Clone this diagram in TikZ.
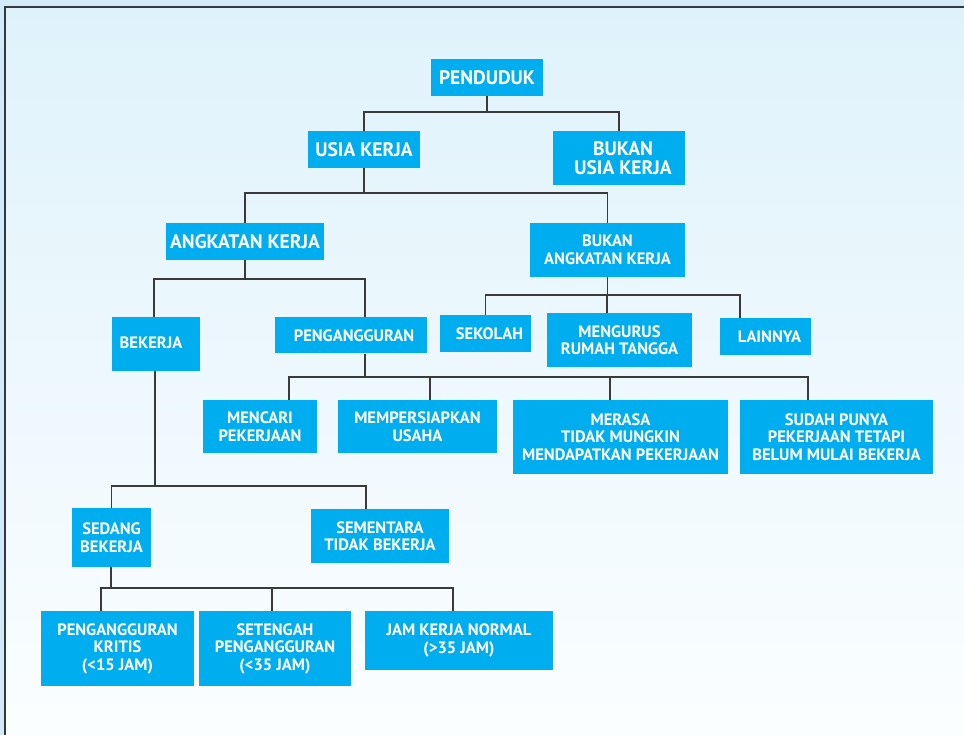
\documentclass[tikz,border=0pt]{standalone}
\usepackage{fontspec}
\setmainfont{PT Sans}
\definecolor{boxblue}{HTML}{00AEEF}
\definecolor{linegray}{HTML}{3A3A3A}
\definecolor{bgtop}{HTML}{DFF2FB}
\definecolor{bgbot}{HTML}{FBFEFF}
\definecolor{outer}{HTML}{D2EAF8}
\definecolor{frame}{HTML}{333840}
\begin{document}
\begin{tikzpicture}[x=1pt,y=-1pt,
  box/.style={fill=boxblue, text=white, align=center, inner sep=0pt,
    font=\fontsize{16.5}{17.5}\selectfont\bfseries},
  bigbox/.style={box, font=\fontsize{19.5}{19}\selectfont\bfseries},
  boxtext/.style={text=white, align=center, inner sep=0pt,
    font=\fontsize{16.5}{17.5}\selectfont\bfseries},
  bigtext/.style={boxtext, font=\fontsize{19.5}{19}\selectfont\bfseries},
  conn/.style={draw=linegray, line width=1.4pt}]
\useasboundingbox (0,0) rectangle (964,735);
\fill[outer] (0,0) rectangle (964,735);
\shade[top color=bgtop, bottom color=bgbot] (5,7) rectangle (964,735);
\draw[frame, line width=2pt] (5,735) -- (5,7) -- (964,7);

% level 0-1
\node[bigbox, minimum width=112, minimum height=37] (pend) at (487,77.5) {PENDUDUK};
\node[bigbox, minimum width=112, minimum height=37] (usia) at (364,149.5) {USIA KERJA};
\node[bigbox, minimum width=132, minimum height=54] (bukanusia) at (619,158) {};
\node[bigtext] (bukanusiaT) at ([xshift=4pt]bukanusia.center) {BUKAN\\USIA KERJA};
% level 2
\node[bigbox, minimum width=158, minimum height=37] (ak) at (245,241.5) {ANGKATAN KERJA};
\node[box, minimum width=155, minimum height=54] (bak) at (607.5,250) {BUKAN\\ANGKATAN KERJA};
% level 3
\node[box, minimum width=88, minimum height=53] (bekerja) at (156,344) {};
\node[boxtext] (bekerjaT) at ([xshift=-5pt,yshift=1pt]bekerja.center) {BEKERJA};
\node[box, minimum width=152, minimum height=36] (peng) at (351,335.5) {};
\node[boxtext] (pengT) at ([xshift=3pt]peng.center) {PENGANGGURAN};
\node[box, minimum width=91, minimum height=37] (sekolah) at (485.5,333.5) {};
\node[boxtext] (sekolahT) at ([xshift=4pt]sekolah.center) {SEKOLAH};
\node[box, minimum width=145, minimum height=54] (mengurus) at (619.5,340) {MENGURUS\\RUMAH TANGGA};
\node[box, minimum width=91, minimum height=37] (lainnya) at (765.5,336.5) {};
\node[boxtext] (lainnyaT) at ([xshift=4pt]lainnya.center) {LAINNYA};
% level 4
\node[box, minimum width=114, minimum height=53] (mencari) at (260,426.5) {MENCARI\\PEKERJAAN};
\node[box, minimum width=159, minimum height=53] (persiap) at (417.5,426.5) {MEMPERSIAPKAN\\USAHA};
\node[box, minimum width=215, minimum height=74] (merasa) at (620.5,437) {MERASA\\TIDAK MUNGKIN\\MENDAPATKAN PEKERJAAN};
\node[box, minimum width=193, minimum height=74] (sudah) at (836.5,437) {SUDAH PUNYA\\PEKERJAAN TETAPI\\BELUM MULAI BEKERJA};
% level 5
\node[box, minimum width=79, minimum height=59] (sedang) at (111.5,537.5) {SEDANG\\BEKERJA};
\node[box, minimum width=138, minimum height=54] (sementara) at (380,536) {SEMENTARA\\TIDAK BEKERJA};
% level 6
\node[box, minimum width=153, minimum height=75] (kritis) at (117.5,648.5) {PENGANGGURAN\\KRITIS\\(<15 JAM)};
\node[box, minimum width=152, minimum height=75] (setengah) at (275,648.5) {SETENGAH\\PENGANGGURAN\\(<35 JAM)};
\node[box, minimum width=188, minimum height=59] (jam) at (459,640.5) {JAM KERJA NORMAL\\(>35 JAM)};

% bus levels
\coordinate (y1) at (0,112);
\coordinate (y2) at (0,193);
\coordinate (y3) at (0,279);
\coordinate (y4) at (0,295);
\coordinate (y5) at (0,377);
\coordinate (y6) at (0,486);
\coordinate (y7) at (0,588);

% connection points
\coordinate (pPeng) at ([xshift=14pt]peng.south);
\coordinate (cPeng) at ([xshift=14pt]peng.north);
\coordinate (cBek) at ([xshift=-2pt]bekerja.north);
\coordinate (pBek) at ([xshift=-1pt]bekerja.south);
\coordinate (cMeng) at ([xshift=-12.5pt]mengurus.north);
\coordinate (cLain) at ([xshift=-25.5pt]lainnya.north);
\coordinate (cMenc) at ([xshift=29pt]mencari.north);
\coordinate (cPers) at ([xshift=12.5pt]persiap.north);
\coordinate (cMer) at ([xshift=-10.5pt]merasa.north);
\coordinate (cSud) at ([xshift=-28.5pt]sudah.north);
\coordinate (cSem) at ([xshift=-14pt]sementara.north);
\coordinate (pSed) at ([xshift=-0.5pt]sedang.south);
\coordinate (cKri) at ([xshift=-16.5pt]kritis.north);
\coordinate (cSet) at ([xshift=-3pt]setengah.north);
\coordinate (cJam) at ([xshift=-6pt]jam.north);

% connectors
\draw[conn] (pend.south) -- (pend.south |- y1);
\draw[conn] (usia.north) -- (usia.north |- y1) -- (bukanusia.north |- y1) -- (bukanusia.north);

\draw[conn] (usia.south) -- (usia.south |- y2);
\draw[conn] (ak.north) -- (ak.north |- y2) -- (bak.north |- y2) -- (bak.north);

\draw[conn] (ak.south) -- (ak.south |- y3);
\draw[conn] (cBek) -- (cBek |- y3) -- (cPeng |- y3) -- (cPeng);

\draw[conn] (bak.south) -- (bak.south |- y4);
\draw[conn] (sekolah.north) -- (sekolah.north |- y4) -- (cLain |- y4) -- (cLain);
\draw[conn] (cMeng) -- (cMeng |- y4);

\draw[conn] (pPeng) -- (pPeng |- y5);
\draw[conn] (cMenc) -- (cMenc |- y5) -- (cSud |- y5) -- (cSud);
\draw[conn] (cPers) -- (cPers |- y5);
\draw[conn] (cMer) -- (cMer |- y5);

\draw[conn] (pBek) -- (pBek |- y6);
\draw[conn] (sedang.north) -- (sedang.north |- y6) -- (cSem |- y6) -- (cSem);

\draw[conn] (pSed) -- (pSed |- y7);
\draw[conn] (cKri) -- (cKri |- y7) -- (cJam |- y7) -- (cJam);
\draw[conn] (cSet) -- (cSet |- y7);
\end{tikzpicture}
\end{document}
